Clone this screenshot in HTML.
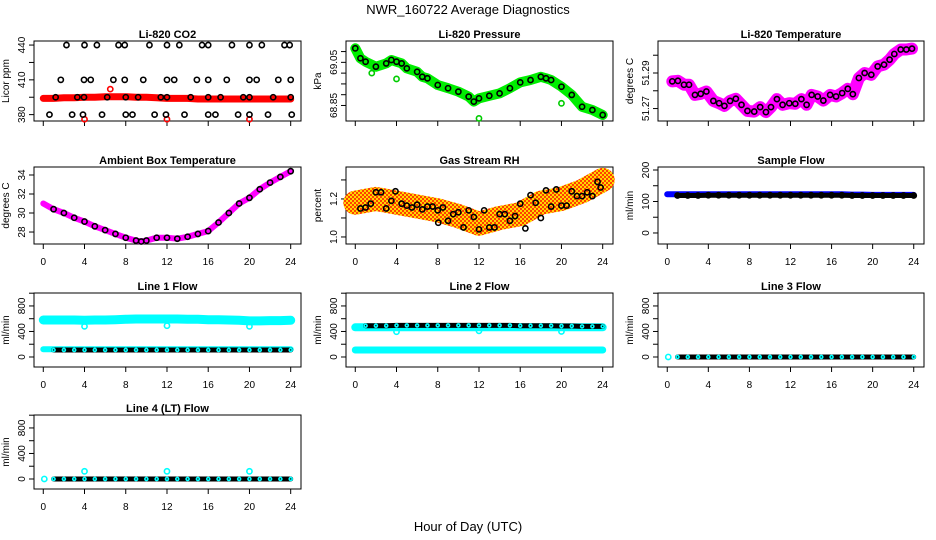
<!DOCTYPE html>
<html><head><meta charset="utf-8">
<style>
html,body{margin:0;padding:0;background:#fff;}
svg{display:block;font-family:"Liberation Sans",Arial,sans-serif;}
</style></head>
<body>
<svg id="chart" width="936" height="540" viewBox="0 0 936 540" xmlns="http://www.w3.org/2000/svg">
<defs>
<pattern id="rhpat" width="4" height="4" patternUnits="userSpaceOnUse">
<rect width="4" height="4" fill="#ffd700"/><rect width="2" height="2" fill="#ff4000"/><rect x="2" y="2" width="2" height="2" fill="#ff4000"/>
</pattern>
</defs>
<text x="468" y="14" text-anchor="middle" font-size="13">NWR_160722  Average Diagnostics</text>
<text x="468" y="531" text-anchor="middle" font-size="13">Hour of Day (UTC)</text>
</svg>
<script>
// ---- data ----
const hourTicks = [0,4,8,12,16,20,24];
const hrs = [0,1,2,3,4,5,6,7,8,9,10,11,12,13,14,15,16,17,18,19,20,21,22,23,24];

const co2BlackH = [2.25,4.0,5.2,7.3,7.9,10.3,12.0,13.2,15.4,16.0,18.3,20.0,21.2,23.4,23.9, 1.7,3.95,4.6,6.8,7.9,9.7,12.0,12.7,14.9,16.0,17.8,20.0,20.7,22.8,24.0, 1.2,3.3,3.95,6.2,8.0,9.2,11.4,12.0,14.3,16.0,17.2,19.4,20.0,22.3,24.0, 0.6,2.8,3.85,5.7,8.0,8.65,10.8,11.9,13.7,16.0,16.7,18.9,20.0,21.8,24.1];
const co2BlackV = [440,440,440,440,440,440,440,440,440,440,440,440,440,440,440, 410,410,410,410,410,410,410,410,410,410,410,410,410,410,410, 395,395,395,395,395,395,395,395,395,395,395,395,395,395,395, 380,380,380,380,380,380,380,380,380,380,380,380,380,380,380];
const co2Red = [394,394,394.5,394.5,395,395,395.5,395.5,395.5,395,395,394.5,394,394,394,393.5,393.5,393.5,393.5,393.5,393.5,393.5,393.5,393.5,393.5];
const co2RedOutH = [4.0,6.5,12.0,20.0];
const co2RedOutV = [376,402,376,376];

const presH = [0,0.5,1,2,3,3.5,4,4.5,5,6,6.5,7,8,9,10,11,11.5,12,13,14,15,16,17,18,18.5,19,20,21,22,23,24];
const presV = [69.115,69.069,69.053,69.030,69.045,69.061,69.053,69.045,69.022,69.006,68.983,68.976,68.945,68.930,68.914,68.891,68.868,68.883,68.895,68.906,68.930,68.957,68.968,68.983,68.976,68.968,68.937,68.899,68.844,68.829,68.806];
const presOutH = [4.0,12.0,20.0,1.6];
const presOutV = [68.973,68.79,68.86,69.0];

const tempH = [0.49,1.04,1.63,2.12,2.70,3.26,3.81,4.49,5.05,5.57,6.12,6.68,7.23,7.81,8.47,9.05,9.61,10.1,10.68,11.23,11.88,12.47,13.06,13.57,14.06,14.65,15.2,15.86,16.44,17.03,17.58,18.07,18.66,19.22,19.87,20.49,21.11,21.65,22.11,22.73,23.28,23.83];
const tempV = [51.2853,51.2856,51.2834,51.2834,51.2777,51.2783,51.2796,51.2743,51.2730,51.2715,51.2743,51.2755,51.2721,51.2687,51.2683,51.2708,51.2680,51.2708,51.2753,51.2721,51.2730,51.2727,51.2753,51.2721,51.2777,51.2768,51.2745,51.2777,51.2768,51.2787,51.2811,51.2781,51.2872,51.29,51.289,51.2937,51.2947,51.2975,51.3007,51.3032,51.3032,51.3037];

const ambH = [0,1,2,3,4,5,6,7,8,9,9.5,10,11,12,13,14,15,16,17,18,19,20,21,22,23,24];
const ambV = [31.0,30.4,30.0,29.5,29.1,28.6,28.2,27.8,27.4,27.1,27.0,27.1,27.4,27.4,27.3,27.5,27.8,28.1,29.0,30.0,31.0,31.6,32.5,33.2,33.8,34.4];

const rhH = [0.5,1,1.5,2,2.5,3,3.5,3.9,4.5,5,5.5,6,6.5,7,7.5,8,8.05,8.5,9,9.5,10,10.5,11,11.5,12,12.5,13,13.5,14,14.5,15,15.5,16,16.5,17,17.5,18,18.5,19,19.5,20,20.5,21,21.5,22,22.5,23,23.5,23.8];
const rhV = [1.15,1.155,1.175,1.235,1.235,1.15,1.19,1.24,1.175,1.165,1.155,1.17,1.145,1.16,1.16,1.14,1.075,1.155,1.085,1.12,1.13,1.05,1.14,1.105,1.04,1.14,1.05,1.05,1.12,1.12,1.085,1.11,1.175,1.045,1.22,1.18,1.1,1.245,1.16,1.25,1.165,1.165,1.24,1.215,1.215,1.235,1.215,1.29,1.26];
const rhTrendH = [0,2,4,6,8,10,12,14,16,18,20,22,24];
const rhTrendV = [1.18,1.2,1.18,1.16,1.14,1.11,1.07,1.1,1.12,1.18,1.2,1.24,1.3];

const sampleBlue = [123,123,123,123,123,123,123,123,123,123,123,123,123,123,123,123,123,123,122,122,121,121,121,121,121];
const sampleBlack = [120,119,119,119,120,120,120,120,120,120,120,120,120,120,120,120,120,120,119,119,119,119,119,119,119];

const line1Cyan = [580,580,580,580,575,580,580,585,590,595,595,595,595,595,590,590,585,585,580,575,565,565,570,570,575];
const line1Black = [110,110,110,110,110,110,110,110,110,110,110,110,110,110,110,110,110,110,110,110,110,110,110,110,110];
const line1LowCyan = [120,120,120,120,120,120,120,120,120,120,120,120,120,120,120,120,120,120,120,120,120,120,120,120,120];
const line1DipH = [4,12,20];
const line1DipV = [480,490,480];

const line2Cyan = [465,465,465,465,465,465,465,465,465,465,465,465,465,465,465,465,465,465,465,465,465,465,465,465,465];
const line2Black = [490,490,490,490,495,495,495,495,495,495,495,495,495,495,495,495,490,490,490,490,485,485,480,480,480];
const line2LowCyan = [110,110,110,110,110,110,110,110,110,110,110,110,110,110,110,110,110,110,110,110,110,110,110,110,110];
const line2DipH = [4,12,20];
const line2DipV = [396,410,400];

const line3Black = [0,0,0,0,0,0,0,0,0,0,0,0,0,0,0,0,0,0,0,0,0,0,0,0,0];
const line4Black = [0,0,0,0,0,0,0,0,0,0,0,0,0,0,0,0,0,0,0,0,0,0,0,0,0];
const line4OutH = [4,12,20];
const line4OutV = [120,120,120];

// ---- helpers ----
const NS = "http://www.w3.org/2000/svg";
const svg = document.getElementById('chart');
function mk(tag, attrs, parent){
  const e = document.createElementNS(NS, tag);
  for (const k in attrs) e.setAttribute(k, attrs[k]);
  (parent||svg).appendChild(e);
  return e;
}
const cols = [[34,301],[346,613],[658,924]];
const rows = [[41,121],[167,244],[293,367],[415,489]];

function panel(c, r, ydom, yticks, ylabels, title, ytitle, name, showXLabels){
  const [x0,x1] = cols[c], [y0,y1] = rows[r];
  const g = mk('g', {});
  
  
  const sx = h => x0 + (h + 0.9) / 25.9 * (x1 - x0);
  const sy = v => y1 - (v - ydom[0]) / (ydom[1] - ydom[0]) * (y1 - y0);
  const box = mk('rect', {x:x0, y:y0, width:x1-x0, height:y1-y0, fill:'none', stroke:'#000', 'stroke-width':1}, g);
  
  
  const t = mk('text', {x:(x0+x1)/2, y:y0-3, 'text-anchor':'middle', 'font-size':11, 'font-weight':'bold'}, g);
  t.textContent = title;
  
  
  const yt = mk('text', {transform:`translate(${x0-25},${(y0+y1)/2}) rotate(-90)`, 'text-anchor':'middle', 'font-size':10}, g);
  yt.textContent = ytitle;
  
  
  hourTicks.forEach(h => {
    mk('line', {x1:sx(h), x2:sx(h), y1:y1, y2:y1+5, stroke:'#000'}, g);
    if (showXLabels) {
      const l = mk('text', {x:sx(h), y:y1+21, 'text-anchor':'middle', 'font-size':10}, g);
      l.textContent = h;
      
      
    }
  });
  yticks.forEach(v => {
    mk('line', {x1:x0-5, x2:x0, y1:sy(v), y2:sy(v), stroke:'#000'}, g);
  });
  ylabels.forEach(([v, s]) => {
    const l = mk('text', {transform:`translate(${x0-9},${sy(v)}) rotate(-90)`, 'text-anchor':'middle', 'font-size':10}, g);
    l.textContent = s;
    
    
  });
  const clip = mk('g', {}, g);
  return {sx, sy, g:clip};
}
function band(p, hs, vs, color, w, name){
  const pts = hs.map((h,i) => p.sx(h).toFixed(1) + ',' + p.sy(vs[i]).toFixed(1)).join(' ');
  const e = mk('polyline', {points:pts, fill:'none', stroke:color, 'stroke-width':w, 'stroke-linejoin':'round', 'stroke-linecap':'round'}, p.g);
  
  
}
function pts(p, hs, vs, color, name, r){
  hs.forEach((h,i) => {
    const e = mk('circle', {cx:p.sx(h), cy:p.sy(vs[i]), r:r||2.6, fill:'none', stroke:color, 'stroke-width':1.6}, p.g);
    
    
  });
}

// ---- CO2 ----
let p = panel(0,0,[374.5,443.5],[380,395,410,425,440],[[380,'380'],[410,'410'],[440,'440']],'Li-820 CO2','Licor ppm','panel-co2',false);
band(p, hrs, co2Red, '#ff0000', 7, 'co2-red-band');
pts(p, co2RedOutH, co2RedOutV, '#ff0000', 'co2-red-outlier');
pts(p, co2BlackH, co2BlackV, '#000', 'co2-point');

// ---- Pressure ----
p = panel(1,0,[68.778,69.149],[68.85,68.90,68.95,69.00,69.05,69.10],[[68.85,'68.85'],[69.05,'69.05']],'Li-820 Pressure','kPa','panel-pressure',false);
band(p, presH, presV, '#00ee00', 10, 'pressure-green-band');
pts(p, presOutH, presOutV, '#00cc00', 'pressure-outlier');
pts(p, presH, presV, '#000', 'pressure-point');

// ---- Temperature ----
p = panel(2,0,[51.263,51.308],[51.27,51.28,51.29,51.30],[[51.27,'51.27'],[51.29,'51.29']],'Li-820 Temperature','degrees C','panel-li820-temp',false);
band(p, tempH, tempV, '#ff00ff', 12, 'temp-magenta-band');
pts(p, tempH, tempV, '#000', 'temp-point');

// ---- Ambient ----
p = panel(0,1,[26.74,34.84],[28,30,32,34],[[28,'28'],[30,'30'],[32,'32'],[34,'34']],'Ambient Box Temperature','degrees C','panel-ambient',true);
band(p, ambH, ambV, '#ff00ff', 6, 'ambient-magenta-band');
pts(p, ambH.slice(1), ambV.slice(1), '#000', 'ambient-point');

// ---- RH ----
p = panel(1,1,[0.963,1.368],[1.0,1.1,1.2,1.3],[[1.0,'1.0'],[1.2,'1.2']],'Gas Stream RH','percent','panel-rh',true);
band(p, rhTrendH, rhTrendV, 'url(#rhpat)', 24, 'rh-orange-band');
pts(p, rhH, rhV, '#000', 'rh-point');

// ---- Sample flow ----
p = panel(2,1,[-35,209.5],[0,50,100,150,200],[[0,'0'],[100,'100'],[200,'200']],'Sample Flow','ml/min','panel-sample-flow',true);
band(p, hrs, sampleBlue, '#0000ff', 6, 'sample-blue-band');
band(p, hrs.slice(1), sampleBlack.slice(1), '#000', 5, 'sample-black-band');
pts(p, hrs.slice(1), sampleBlack.slice(1), '#000', 'sample-point');

const flowDom = [-157,1003];
const flowTicks = [0,200,400,600,800,1000];
const flowLabels = [[0,'0'],[400,'400'],[800,'800']];

// ---- Line 1 ----
p = panel(0,2,flowDom,flowTicks,flowLabels,'Line 1 Flow','ml/min','panel-line1',true);
band(p, hrs, line1Cyan, '#00ffff', 9, 'line1-cyan-band');
band(p, hrs, line1LowCyan, '#00ffff', 6, 'line1-cyan-low');
pts(p, line1DipH, line1DipV, '#00ffff', 'line1-dip');
band(p, hrs.slice(1), line1Black.slice(1), '#000', 5, 'line1-black-band');
pts(p, hrs.slice(1), line1Black.slice(1), '#00ffff', 'line1-point', 1.5);

// ---- Line 2 ----
p = panel(1,2,flowDom,flowTicks,flowLabels,'Line 2 Flow','ml/min','panel-line2',true);
band(p, hrs, line2Cyan, '#00ffff', 8, 'line2-cyan-band');
band(p, hrs, line2LowCyan, '#00ffff', 7, 'line2-cyan-low');
pts(p, line2DipH, line2DipV, '#00ffff', 'line2-dip');
band(p, hrs.slice(1), line2Black.slice(1), '#000', 5, 'line2-black-band');
pts(p, hrs.slice(1), line2Black.slice(1), '#00ffff', 'line2-point', 1.5);

// ---- Line 3 ----
p = panel(2,2,flowDom,flowTicks,flowLabels,'Line 3 Flow','ml/min','panel-line3',true);
pts(p, [0.1], [0], '#00ffff', 'line3-cyan');
band(p, hrs.slice(1), line3Black.slice(1), '#000', 5, 'line3-black-band');
pts(p, hrs.slice(1), line3Black.slice(1), '#00ffff', 'line3-point', 1.5);

// ---- Line 4 ----
p = panel(0,3,flowDom,flowTicks,flowLabels,'Line 4 (LT) Flow','ml/min','panel-line4',true);
pts(p, [0.1], [0], '#00ffff', 'line4-cyan');
pts(p, line4OutH, line4OutV, '#00ffff', 'line4-outlier');
band(p, hrs.slice(1), line4Black.slice(1), '#000', 5, 'line4-black-band');
pts(p, hrs.slice(1), line4Black.slice(1), '#00ffff', 'line4-point', 1.5);
</script>
</body></html>
